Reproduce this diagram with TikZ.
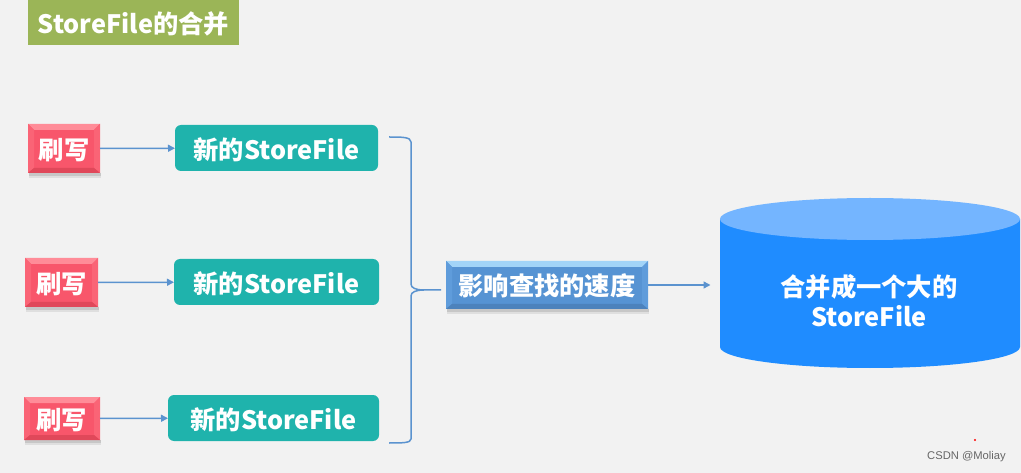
\documentclass[tikz,border=0pt]{standalone}
\usepackage{fontspec}
\setmainfont{Noto Sans CJK SC}
\newfontfamily\wmfont{Liberation Sans}
\usetikzlibrary{arrows.meta,calc}
\definecolor{pagebg}{HTML}{F2F2F2}
\definecolor{titlegreen}{HTML}{9BB557}
\definecolor{linkblue}{HTML}{5B93CF}
\definecolor{tealbox}{HTML}{1FB3AC}
\definecolor{redmid}{HTML}{F8566B}
\definecolor{redtop}{HTML}{FF8C98}
\definecolor{redside}{HTML}{FA6476}
\definecolor{redlow}{HTML}{E0485A}
\definecolor{bluemid}{HTML}{5693D3}
\definecolor{bluetop}{HTML}{A2D4F8}
\definecolor{blueside}{HTML}{5F9CDB}
\definecolor{bluelow}{HTML}{4C82BC}
\definecolor{cylside}{HTML}{1F8CFF}
\definecolor{cyltop}{HTML}{74B5FF}
\tikzset{
  labeltext/.style={text=white,font=\bfseries\fontsize{25.3}{30}\selectfont,inner sep=0pt,align=center},
  boxlabel/.style={labeltext,yshift=-1.3pt},
  tealstyle/.style={fill=tealbox,rounded corners=6pt},
  link/.style={draw=linkblue,line width=1.5pt},
  linkarrow/.style={link,-{Triangle[length=7pt,width=7pt]}},
}
% name, x0,y0,x1,y1, mid, top, side, low
\newcommand{\bevelbox}[9]{%
  \fill[black,opacity=.10] ({#2+1},#5) rectangle ({#4+1},{#5+3});
  \fill[black,opacity=.08] ({#2+1},#5) rectangle ({#4+1},{#5+5});
  \fill[#6] (#2,#3) rectangle (#4,#5);
  \fill[#7] (#2,#3) -- (#4,#3) -- ({#4-6},{#3+6}) -- ({#2+6},{#3+6}) -- cycle;
  \fill[#8] (#2,#3) -- ({#2+6},{#3+6}) -- ({#2+6},{#5-5}) -- (#2,#5) -- cycle;
  \fill[#8] (#4,#3) -- ({#4-6},{#3+6}) -- ({#4-6},{#5-5}) -- (#4,#5) -- cycle;
  \fill[#9] (#2,#5) -- ({#2+6},{#5-5}) -- ({#4-6},{#5-5}) -- (#4,#5) -- cycle;
  \node[minimum width={(#4-#2)*1pt},minimum height={(#5-#3)*1pt},inner sep=0pt,outer sep=0pt] (#1) at ({(#2+#4)/2},{(#3+#5)/2}) {};
}
\begin{document}
\begin{tikzpicture}[x=1pt,y=-1pt]
\useasboundingbox (0,0) rectangle (1021,473);
\fill[pagebg] (0,0) rectangle (1021,473);
% title
\fill[titlegreen] (28,-1) rectangle (239,45);
\node[boxlabel] (title) at (133.5,22.5) {StoreFile的合并};
% red boxes
\bevelbox{r1}{28}{124}{100}{173}{redmid}{redtop}{redside}{redlow}
\node[boxlabel] at (r1) {刷写};
\bevelbox{r2}{25}{258}{98}{307}{redmid}{redtop}{redside}{redlow}
\node[boxlabel] at (r2) {刷写};
\bevelbox{r3}{24}{397}{100}{440}{redmid}{redtop}{redside}{redlow}
\node[boxlabel] at (r3) {刷写};
% teal boxes
\node[tealstyle,minimum width=203pt,minimum height=46pt,inner sep=0pt,outer sep=0pt] (t1) at (276.5,148) {};
\node[boxlabel] at (t1) {新的StoreFile};
\node[tealstyle,minimum width=205pt,minimum height=46pt,inner sep=0pt,outer sep=0pt] (t2) at (276.5,282) {};
\node[boxlabel] at (t2) {新的StoreFile};
\node[tealstyle,minimum width=211pt,minimum height=46pt,inner sep=0pt,outer sep=0pt] (t3) at (273.5,418) {};
\node[boxlabel] at (t3) {新的StoreFile};
% arrows
\draw[linkarrow] (r1) -- (t1);
\draw[linkarrow] (r2) -- (t2);
\draw[linkarrow] (r3) -- (t3);
% blue box
\bevelbox{q}{446}{261}{648}{309}{bluemid}{bluetop}{blueside}{bluelow}
\node[boxlabel] at (q) {影响查找的速度};
% cylinder
\fill[cylside] (720,219) -- (720,347) arc[start angle=180,end angle=0,x radius=150,y radius=21] -- (1020,219) -- cycle;
\fill[cyltop] (870,219) ellipse[x radius=150,y radius=21];
\node[labeltext,minimum width=300pt] (c) at (869,301) {合并成一个大的\\StoreFile};
\coordinate (cw) at (710.5,285);
% connectors to cylinder
\draw[linkarrow] (q.east |- cw) -- (cw);
% brace
\coordinate (bt) at (389,137);
\coordinate (bb) at (389,443);
\coordinate (bm) at (441,290);
\draw[link] (bt) .. controls (402,137) and (411,137) .. (411,142)
  -- (411,284) .. controls (411,288) and (416,290) .. (424,290) -- (bm)
  (424,290) .. controls (416,290) and (411,292) .. (411,296)
  -- (411,439) .. controls (411,443) and (402,443) .. (bb);
% watermark
\fill[red] (975,440) circle[radius=1.2];
\node[font=\wmfont\fontsize{11.2}{14}\selectfont,text=black!60,inner sep=0pt] (wm) at (966.5,457) {CSDN @Moliay};
\end{tikzpicture}
\end{document}
